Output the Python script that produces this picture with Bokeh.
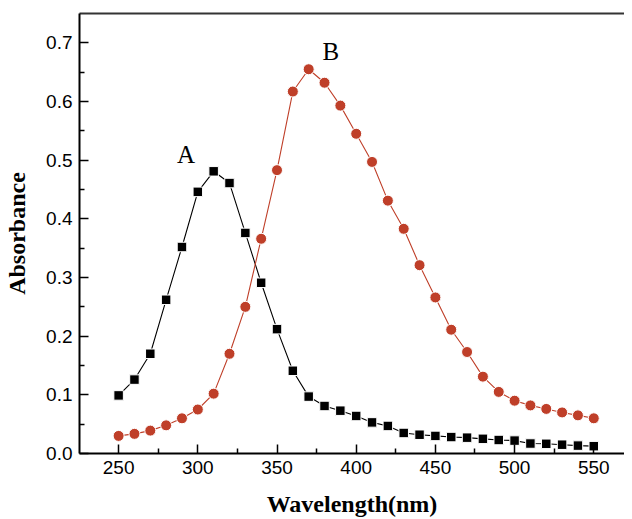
from bokeh.plotting import figure
from bokeh.models import LinearAxis, FixedTicker, Range1d, ColumnDataSource
from bokeh.core.properties import value
from bokeh.embed import file_html
from bokeh.resources import INLINE

wavelength = [250, 260, 270, 280, 290, 300, 310, 320, 330, 340, 350, 360, 370, 380, 390, 400,
              410, 420, 430, 440, 450, 460, 470, 480, 490, 500, 510, 520, 530, 540, 550]
absorbance_A = [0.099, 0.126, 0.170, 0.262, 0.352, 0.446, 0.481, 0.461, 0.376, 0.291, 0.212,
                0.141, 0.097, 0.081, 0.073, 0.064, 0.053, 0.047, 0.035, 0.032, 0.030, 0.028,
                0.027, 0.025, 0.023, 0.022, 0.017, 0.0165, 0.015, 0.0135, 0.0125]
absorbance_B = [0.030, 0.0335, 0.039, 0.048, 0.060, 0.075, 0.102, 0.170, 0.250, 0.366, 0.483,
                0.617, 0.655, 0.632, 0.593, 0.545, 0.497, 0.431, 0.383, 0.321, 0.266, 0.211,
                0.173, 0.131, 0.105, 0.090, 0.082, 0.076, 0.070, 0.065, 0.060]

x_ticks = [250, 300, 350, 400, 450, 500, 550]
x_minor_ticks = [275, 325, 375, 425, 475, 525]
y_ticks = [0.0, 0.1, 0.2, 0.3, 0.4, 0.5, 0.6, 0.7]
y_tick_labels = ["0.0", "0.1", "0.2", "0.3", "0.4", "0.5", "0.6", "0.7"]
y_minor_ticks = [0.05, 0.15, 0.25, 0.35, 0.45, 0.55, 0.65]
series_labels = ["A", "B"]
x_title = "Wavelength(nm)"
y_title = "Absorbance"

src = ColumnDataSource(dict(wl=wavelength, A=absorbance_A, B=absorbance_B))

p = figure(width=624, height=519, output_backend="svg", toolbar_location=None,
           x_range=Range1d(225.3, 569.4), y_range=Range1d(0, 0.75),
           min_border_left=79, min_border_right=0, min_border_top=13, min_border_bottom=65)
p.outline_line_color = None
p.grid.visible = False
p.background_fill_color = "white"
p.border_fill_color = "white"

red = "#BF3F29"

p.line("wl", "A", source=src, line_color="black", line_width=1.1)
p.scatter("wl", "A", source=src, marker="square", size=9.5, fill_color="black",
          line_color="white", line_width=1)
p.line("wl", "B", source=src, line_color=red, line_width=1.1)
p.scatter("wl", "B", source=src, marker="circle", size=11, fill_color=red,
          line_color="white", line_width=1)

p.text(x=[292.5], y=[0.509], text=[series_labels[0]], text_font=value("Liberation Serif"),
       text_font_size="25px", text_align="center", text_baseline="alphabetic", text_color="black")
p.text(x=[384.0], y=[0.685], text=[series_labels[1]], text_font=value("Liberation Serif"),
       text_font_size="25px", text_align="center", text_baseline="alphabetic", text_color="black")

xa = p.xaxis[0]
xa.ticker = FixedTicker(ticks=x_ticks, minor_ticks=x_minor_ticks)
xa.axis_label = x_title
ya = p.yaxis[0]
ya.ticker = FixedTicker(ticks=y_ticks, minor_ticks=y_minor_ticks)
ya.major_label_overrides = {t: l for t, l in zip(y_ticks, y_tick_labels)}
ya.axis_label = y_title

for ax in (xa, ya):
    ax.axis_line_width = 2
    ax.axis_line_color = "black"
    ax.major_tick_in = 9
    ax.major_tick_out = 0
    ax.minor_tick_in = 5
    ax.minor_tick_out = 0
    ax.major_tick_line_width = 1.5
    ax.minor_tick_line_width = 1.5
    ax.major_tick_line_color = "black"
    ax.minor_tick_line_color = "black"
    ax.major_label_text_font = "Liberation Sans"
    ax.major_label_text_font_size = "19px"
    ax.major_label_text_color = "black"
    ax.axis_label_text_font = "Liberation Serif"
    ax.axis_label_text_font_style = "bold"
    ax.axis_label_text_font_size = "24px"
    ax.axis_label_text_color = "black"

xa.major_label_standoff = 7
xa.axis_label_standoff = 14
ya.major_label_standoff = 7
ya.axis_label_standoff = 13

top = LinearAxis(ticker=FixedTicker(ticks=[]), major_tick_in=0, major_tick_out=0,
                 minor_tick_in=0, minor_tick_out=0, major_label_standoff=0,
                 major_label_text_font_size="0px", axis_line_width=2, axis_line_color="#333333")
p.add_layout(top, "above")

open("out.html", "w").write(file_html(p, INLINE))
